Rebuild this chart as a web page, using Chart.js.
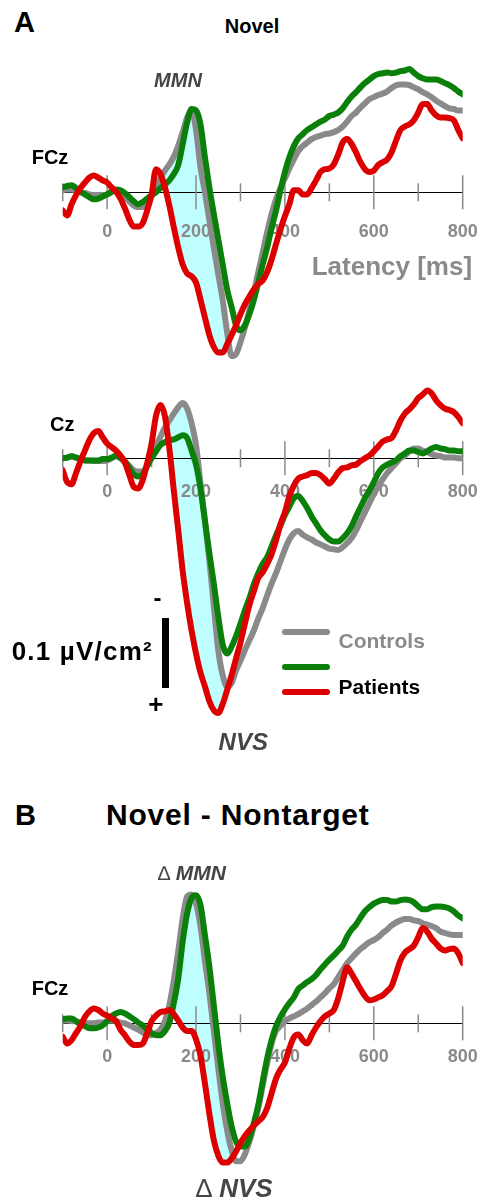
<!DOCTYPE html>
<html>
<head>
<meta charset="utf-8">
<script src="https://cdn.jsdelivr.net/npm/chart.js@4.4.1/dist/chart.umd.min.js"></script>
<style>
  html, body { margin: 0; padding: 0; background: #fff; }
  #page { position: relative; width: 483px; height: 1201px; overflow: hidden;
          font-family: "Liberation Sans", Arial, Helvetica, sans-serif; }
  canvas { position: absolute; left: 0; }
  .t { position: absolute; white-space: nowrap; line-height: 1; font-weight: bold; color: #000; }
</style>
</head>
<body>
<div id="page">
  <canvas id="fczNovel" width="483" height="335" style="top:45px"></canvas>
  <canvas id="czNovel" width="483" height="365" style="top:380px"></canvas>
  <canvas id="fczDiff" width="483" height="335" style="top:848px"></canvas>
</div>
<script>
// latency in ms, amplitude in nV/cm2 (100 = 0.1 µV/cm2), negative plotted up
const latency = [-100,-90,-80,-70,-60,-50,-40,-30,-20,-10,0,10,20,30,40,50,60,70,80,90,
  100,110,120,130,140,150,160,170,180,190,200,210,220,230,240,250,260,270,280,290,
  300,310,320,330,340,350,360,370,380,390,400,410,420,430,440,450,460,470,480,490,
  500,510,520,530,540,550,560,570,580,590,600,610,620,630,640,650,660,670,680,690,
  700,710,720,730,740,750,760,770,780,790,800];

const tickValues = [-100, 0, 100, 200, 300, 400, 500, 600, 700, 800];
const tickLabels = ['', '0', '', '200', '', '400', '', '600', '', '800'];

const seriesNames = ['Controls', '', 'Patients'];
const seriesColors = ['#8a8a8a', '#0a800a', '#dd0000'];

// A: Novel, FCz
const fczNovelControls = [
  -3,-4,-4,-3,0,1,3,4,4,4,
  3,0,-3,-1,6,13,19,21,21,14,
  6,-7,-21,-31,-40,-51,-67,-86,-107,-117,
  -89,-36,0,40,79,117,154,200,234,231,
  214,193,169,143,114,86,57,31,10,-6,
  -20,-34,-47,-59,-66,-71,-76,-79,-81,-83,
  -84,-86,-89,-94,-101,-109,-114,-121,-127,-133,
  -136,-139,-141,-144,-149,-153,-154,-154,-153,-150,
  -147,-143,-140,-136,-131,-127,-123,-120,-119,-117,
  -117];
const fczNovelGroup2 = [
  -7,-9,-10,-6,-1,3,7,10,9,6,
  3,-1,-4,-3,1,7,13,17,14,9,
  4,0,-6,-11,-17,-26,-39,-69,-100,-119,
  -117,-97,-50,-7,31,67,103,139,164,190,
  197,190,174,154,129,103,79,51,26,-3,
  -29,-50,-66,-77,-83,-89,-93,-97,-101,-104,
  -109,-111,-114,-120,-129,-137,-143,-150,-156,-161,
  -166,-169,-170,-171,-170,-171,-173,-174,-176,-171,
  -166,-163,-161,-161,-161,-159,-156,-153,-149,-144,
  -140];
const fczNovelPatients = [
  26,33,17,4,-6,-14,-21,-24,-21,-17,
  -14,-7,-1,9,23,39,49,49,44,26,
  3,-33,-26,-7,19,50,79,103,116,120,
  129,153,179,204,221,229,229,217,204,190,
  174,160,149,139,131,126,114,96,74,53,
  34,17,-3,-3,3,3,-6,-17,-29,-33,
  -34,-40,-54,-71,-76,-69,-57,-43,-33,-29,
  -31,-39,-43,-47,-57,-74,-89,-94,-97,-103,
  -114,-126,-126,-117,-110,-107,-107,-106,-103,-89,
  -77];

// A: Novel, Cz
const czNovelControls = [
  0,-1,-3,-1,1,3,3,4,4,4,
  3,0,-3,0,6,11,17,19,19,11,
  -3,-17,-31,-44,-54,-64,-73,-79,-71,-50,
  -19,36,89,146,211,274,310,326,321,303,
  289,274,260,246,229,214,196,179,164,147,
  130,116,107,104,109,113,116,120,123,126,
  129,130,131,127,121,114,103,90,77,64,
  51,40,30,21,14,7,0,-4,-10,-14,
  -14,-11,-9,-6,-4,-3,-1,-1,-1,0,
  0];
const czNovelGroup2 = [
  0,-1,-3,-1,1,3,3,3,3,1,
  1,-1,-4,-1,4,14,23,26,23,11,
  0,-10,-19,-23,-26,-27,-30,-33,-29,-11,
  9,43,89,136,179,226,266,279,269,254,
  236,217,200,180,164,151,141,126,110,96,
  81,69,57,54,61,71,83,93,103,110,
  116,119,119,114,107,97,83,70,57,46,
  34,21,13,9,6,3,-3,-7,-11,-11,
  -9,-7,-10,-14,-16,-14,-13,-11,-11,-10,
  -10];
const czNovelPatients = [
  17,34,37,21,4,-11,-26,-36,-39,-30,
  -21,-16,-11,-4,6,24,41,43,31,7,
  -21,-61,-76,-60,-14,46,103,161,207,246,
  279,306,326,347,360,364,351,331,310,286,
  263,236,210,190,171,163,151,137,117,94,
  77,54,39,29,26,24,21,21,24,30,
  36,29,20,14,13,10,9,4,0,-4,
  -10,-17,-24,-27,-29,-40,-54,-64,-70,-77,
  -86,-91,-97,-93,-83,-76,-71,-69,-66,-59,
  -50];

// B: Novel - Nontarget, FCz
const fczDiffControls = [
  -4,-4,-3,-3,-1,0,0,0,-1,-1,
  -3,-4,-3,-1,0,3,6,9,13,17,
  17,14,9,-3,-26,-61,-103,-150,-181,-184,
  -171,-139,-89,-43,11,64,114,153,181,197,
  197,187,169,147,121,89,57,29,11,4,
  -3,-7,-10,-13,-17,-21,-26,-31,-37,-43,
  -50,-56,-66,-76,-86,-93,-100,-106,-111,-116,
  -119,-123,-129,-134,-140,-144,-147,-149,-149,-147,
  -146,-143,-141,-139,-136,-131,-129,-127,-126,-126,
  -126];
const fczDiffGroup2 = [
  -6,-7,-7,-3,1,4,7,7,6,3,
  -3,-10,-14,-16,-14,-10,-6,-1,3,9,
  14,17,17,11,-1,-29,-64,-117,-157,-179,
  -183,-169,-126,-81,-26,29,76,114,147,169,
  176,176,164,143,117,83,50,24,4,-9,
  -20,-29,-37,-49,-54,-59,-63,-69,-77,-84,
  -91,-97,-104,-111,-124,-134,-141,-151,-160,-166,
  -171,-174,-176,-176,-174,-174,-176,-177,-176,-173,
  -167,-163,-163,-166,-167,-167,-166,-164,-160,-154,
  -150];
const fczDiffPatients = [
  19,29,24,14,4,-9,-17,-21,-19,-14,
  -11,-7,-3,9,17,26,31,31,29,14,
  -3,-11,-16,-17,-19,-13,-4,6,11,11,
  23,46,86,129,167,189,199,199,193,183,
  171,161,153,146,140,134,121,100,79,66,
  56,36,20,16,24,29,17,6,-3,-10,
  -14,-19,-36,-60,-80,-71,-60,-49,-39,-33,
  -34,-37,-40,-46,-53,-71,-90,-101,-106,-111,
  -123,-136,-131,-121,-114,-107,-104,-106,-107,-100,
  -86];

// shaded window between controls and patients (ms)
const fczNovelShade = [120, 270];
const czNovelShade = [130, 270];
const fczDiffShade = [140, 280];

const FONT = '"Liberation Sans", Arial, Helvetica, sans-serif';
const TICK_GRAY = '#8a8a8a';
const SHADE = '#bfffff';
const PX_PER_NV = 0.7;   // 0.1 µV/cm2 bar is 70px tall

const tickMarks = {
  id: 'tickMarks',
  beforeDatasetsDraw(chart) {
    const { ctx, scales: { x, y } } = chart;
    const y0 = y.getPixelForValue(0);
    ctx.save();
    ctx.strokeStyle = TICK_GRAY;
    ctx.lineWidth = 1.5;
    tickValues.forEach(v => {
      const px = x.getPixelForValue(v);
      const len = v % 200 === 0 ? 17 : 9;
      ctx.beginPath();
      ctx.moveTo(px, y0 - len);
      ctx.lineTo(px, y0 + len);
      ctx.stroke();
    });
    ctx.restore();
  }
};

function makeChart(id, top, height, axisY, controls, group2, patients, shade, labelPad) {
  const pts = arr => latency.map((x, i) => ({ x: x, y: arr[i] }));
  const window = arr => pts(arr).filter(p => p.x >= shade[0] && p.x <= shade[1]);
  return new Chart(document.getElementById(id), {
    type: 'line',
    data: {
      datasets: [
        { data: window(patients), borderWidth: 0, borderColor: 'rgba(0,0,0,0)',
          fill: { target: '+1', above: SHADE, below: SHADE }, order: 10 },
        { data: window(controls), borderWidth: 0, borderColor: 'rgba(0,0,0,0)', fill: false, order: 10 },
        { label: seriesNames[0], data: pts(controls), borderColor: seriesColors[0], borderWidth: 6, order: 3 },
        { label: seriesNames[1], data: pts(group2), borderColor: seriesColors[1], borderWidth: 6, order: 2 },
        { label: seriesNames[2], data: pts(patients), borderColor: seriesColors[2], borderWidth: 6, order: 1 }
      ]
    },
    options: {
      responsive: false,
      animation: false,
      devicePixelRatio: 1,
      layout: { autoPadding: false, padding: { left: 62.7, right: 20.3, top: 0, bottom: 0 } },
      elements: {
        point: { radius: 0 },
        line: { cubicInterpolationMode: 'monotone',
                borderCapStyle: 'round', borderJoinStyle: 'round' }
      },
      plugins: {
        legend: { display: false },
        tooltip: { enabled: false },
        filler: { drawTime: 'beforeDraw' }
      },
      scales: {
        x: {
          type: 'linear', min: -100, max: 800,
          position: { y: 0 },
          afterBuildTicks: s => { s.ticks = tickValues.map(v => ({ value: v })); },
          afterFit: s => { s.paddingLeft = 0; s.paddingRight = 0; },
          ticks: {
            autoSkip: false, maxRotation: 0, padding: labelPad, color: TICK_GRAY,
            font: { family: FONT, size: 18, weight: 'bold' },
            callback: v => tickLabels[tickValues.indexOf(v)]
          },
          grid: { display: false, drawTicks: false },
          border: { display: true, color: '#000', width: 1 }
        },
        y: {
          type: 'linear', reverse: true, display: false,
          min: (top - axisY) / PX_PER_NV,
          max: (top + height - axisY) / PX_PER_NV
        }
      }
    },
    plugins: [tickMarks]
  });
}

makeChart('fczNovel', 45, 335, 192.3, fczNovelControls, fczNovelGroup2, fczNovelPatients, fczNovelShade, 29);
makeChart('czNovel', 380, 365, 458.3, czNovelControls, czNovelGroup2, czNovelPatients, czNovelShade, 23);
makeChart('fczDiff', 848, 335, 1023.3, fczDiffControls, fczDiffGroup2, fczDiffPatients, fczDiffShade, 23);

// text and legend
const page = document.getElementById('page');
function addText(parts, x, baseline, size, align, color) {
  const el = document.createElement('div');
  el.className = 't';
  el.style.fontSize = size + 'px';
  el.style.top = (baseline - 0.8465 * size) + 'px';
  el.style.left = x + 'px';
  if (align === 'center') el.style.transform = 'translateX(-50%)';
  if (color) el.style.color = color;
  parts.forEach(p => {
    const s = document.createElement('span');
    s.textContent = p.text;
    if (p.italic) s.style.fontStyle = 'italic';
    if (p.normal) s.style.fontWeight = 'normal';
    if (p.size) s.style.fontSize = p.size + 'px';
    el.appendChild(s);
  });
  page.appendChild(el);
  return el;
}
const T = text => [{ text: text }];

addText(T('A'), 14, 32.7, 29);
addText(T('Novel'), 252, 32.7, 20, 'center');
addText([{ text: 'MMN', italic: true }], 178, 86.7, 20, 'center', '#454545');
addText(T('FCz'), 31.7, 164, 20);
addText(T('Latency [ms]'), 311.7, 275, 26, 'left', TICK_GRAY);

addText(T('Cz'), 50, 430.7, 20);
addText(T('-'), 157.5, 606, 24, 'center');
addText(T('+'), 155.8, 713, 26, 'center');
addText(T('0.1 µV/cm²'), 11.7, 660, 26).style.letterSpacing = '1.2px';
addText([{ text: 'NVS', italic: true }], 243.3, 750, 24, 'center', '#454545');

const bar = document.createElement('div');
Object.assign(bar.style, { position: 'absolute', left: '162.3px', top: '617.7px',
  width: '6.5px', height: '70.6px', background: '#000' });
page.appendChild(bar);

// legend
const legendRows = [632.3, 666.7, 691.7];
const legendBase = [647.7, 0, 694];
const legendText = [TICK_GRAY, '#000', '#000'];
seriesNames.forEach((name, i) => {
  const line = document.createElement('div');
  Object.assign(line.style, { position: 'absolute', left: '282px', width: '48px', height: '6px',
    top: (legendRows[i] - 3) + 'px', borderRadius: '3px', background: seriesColors[i] });
  page.appendChild(line);
  if (name) addText(T(name), 338.5, legendBase[i], 21, 'left', legendText[i]);
});

addText(T('B'), 15, 825.7, 29);
addText(T('Novel - Nontarget'), 106, 825.7, 30).style.letterSpacing = '0.8px';
addText([{ text: '∆ ', normal: true }, { text: 'MMN', italic: true, size: 21 }], 158, 879.3, 20, 'left', '#454545');
addText(T('FCz'), 31.7, 995, 20);
addText([{ text: '∆ ', normal: true }, { text: 'NVS', italic: true }], 196, 1196.7, 26, 'left', '#454545');
</script>
</body>
</html>
